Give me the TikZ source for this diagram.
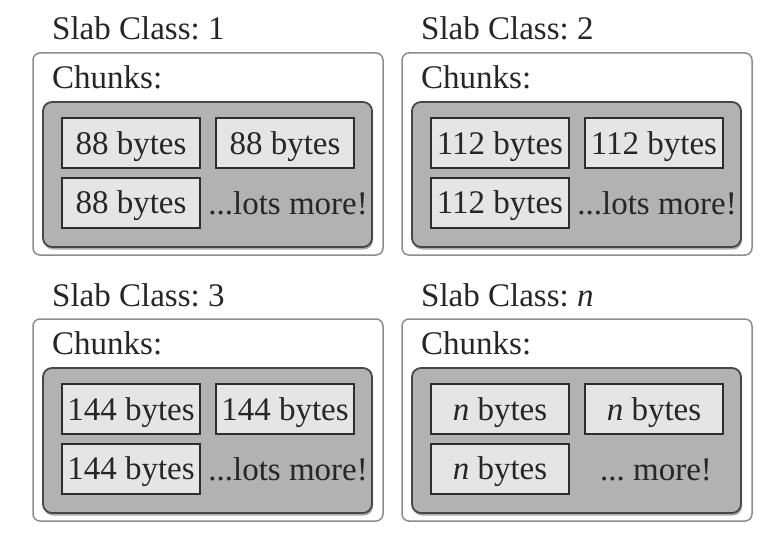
\documentclass[tikz,border=0pt]{standalone}
\usepackage{fontspec}
\setmainfont{Liberation Serif}
\usetikzlibrary{shadows}
\frenchspacing

\begin{document}
\begin{tikzpicture}[x=1pt,y=-1pt,font=\fontsize{33}{38}\selectfont,text=black!85]
                    \tikzstyle{slab} = [
	shape=rectangle,
	draw=black!45, %light border round the whole class
	fill=white,
	line width=1.5pt,
	rounded corners=7pt,
	minimum width=350pt,
	minimum height=202pt,
	inner sep=0pt
];
\tikzstyle{pool} = [
	shape=rectangle,
	draw=black!72,
	fill=black!30, %grey space holding the chunks
	line width=1.8pt,
	rounded corners=9pt,
	minimum width=329pt,
	minimum height=145pt,
	drop shadow={shadow xshift=1pt, shadow yshift=-2.5pt, fill=black!65},
	inner sep=0pt
];
\tikzstyle{chunk} = [
	shape=rectangle,
	draw=black!82,
	fill=black!10,
	line width=2pt,
	minimum width=138pt,
	minimum height=50pt,
	text depth=0pt,
	inner sep=0pt
];
\tikzstyle{heading} = [anchor=base west, inner sep=0pt];
\tikzstyle{moretext} = [inner sep=0pt];

\useasboundingbox (0,0) rectangle (778,543);

%slab class 1
\begin{scope}[shift={(0,0)}]
	\node[slab](slab1) at (208,154) {};
	\node[pool](pool1) at (207.5,174.5) {};
	\node[heading](title1) at (52,40) {Slab Class: 1};
	\node[heading](chunks1) at (52,88) {Chunks:};
	\node[chunk](c1a) at (131,143) {88 bytes};
	\node[chunk](c1b) at (285,143) {88 bytes};
	\node[chunk](c1c) at (131,202.5) {88 bytes};
	\node[moretext, anchor=base east](more1) at (368,214) {...lots more!};
\end{scope}

%slab class 2
\begin{scope}[shift={(369,0)}]
	\node[slab](slab2) at (208,154) {};
	\node[pool](pool2) at (207.5,174.5) {};
	\node[heading](title2) at (52,40) {Slab Class: 2};
	\node[heading](chunks2) at (52,88) {Chunks:};
	\node[chunk](c2a) at (131,143) {112 bytes};
	\node[chunk](c2b) at (285,143) {112 bytes};
	\node[chunk](c2c) at (131,202.5) {112 bytes};
	\node[moretext, anchor=base east](more2) at (368,214) {...lots more!};
\end{scope}

%slab class 3
\begin{scope}[shift={(0,266)}]
	\node[slab](slab3) at (208,154) {};
	\node[pool](pool3) at (207.5,174.5) {};
	\node[heading](title3) at (52,40) {Slab Class: 3};
	\node[heading](chunks3) at (52,88) {Chunks:};
	\node[chunk](c3a) at (131,143) {144 bytes};
	\node[chunk](c3b) at (285,143) {144 bytes};
	\node[chunk](c3c) at (131,202.5) {144 bytes};
	\node[moretext, anchor=base east](more3) at (368,214) {...lots more!};
\end{scope}

%slab class n
\begin{scope}[shift={(369,266)}]
	\node[slab](slab4) at (208,154) {};
	\node[pool](pool4) at (207.5,174.5) {};
	\node[heading](title4) at (52,40) {Slab Class: \textit{n}};
	\node[heading](chunks4) at (52,88) {Chunks:};
	\node[chunk](c4a) at (131,143) {\textit{n} bytes};
	\node[chunk](c4b) at (285,143) {\textit{n} bytes};
	\node[chunk](c4c) at (131,202.5) {\textit{n} bytes};
	\node[moretext, anchor=base](more4) at (287,214) {... more!};
\end{scope}

                \end{tikzpicture}
\end{document}
